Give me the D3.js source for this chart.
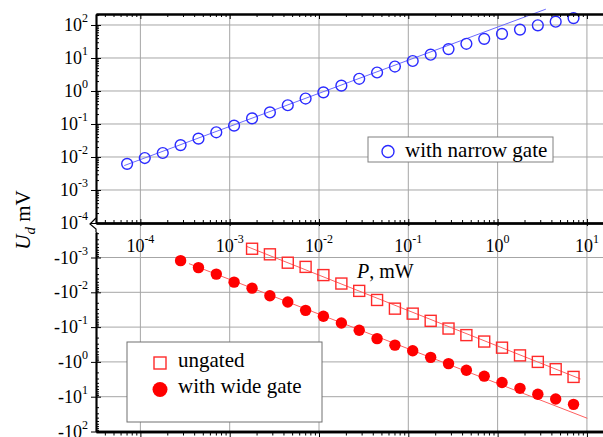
<!DOCTYPE html>
<html>
<head>
<meta charset="utf-8">
<script src="https://cdn.jsdelivr.net/npm/d3@7"></script>
<style>
  body { margin: 0; background: #fff; }
</style>
</head>
<body>
<div id="chart"></div>
<script>
// P, mW and U_d, mV
const narrowP = [7.1e-5, 1.12e-4, 1.78e-4, 2.82e-4, 4.47e-4, 7.08e-4, 1.12e-3, 1.78e-3, 2.82e-3,
                 4.47e-3, 7.08e-3, 1.12e-2, 1.78e-2, 2.82e-2, 4.47e-2, 7.08e-2, 0.112, 0.178, 0.282,
                 0.447, 0.708, 1.12, 1.78, 2.82, 4.47, 7.08];
const narrowU = [6.2e-3, 9.3e-3, 1.32e-2, 2.29e-2, 3.6e-2, 5.6e-2, 8.9e-2, 0.148, 0.224, 0.37, 0.59,
                 0.91, 1.45, 2.34, 3.63, 5.5, 8.1, 12.6, 18.6, 26.9, 38, 53.7, 72.4, 97.7, 126, 162];

const ungatedP = [1.78e-3, 2.82e-3, 4.47e-3, 7.08e-3, 1.12e-2, 1.78e-2, 2.82e-2, 4.47e-2, 7.08e-2,
                  0.112, 0.178, 0.282, 0.447, 0.708, 1.12, 1.78, 2.82, 4.47, 7.08];
const ungatedU = [-5.6e-4, -8.1e-4, -1.41e-3, -1.86e-3, -3.2e-3, -5.6e-3, -9.1e-3, -1.66e-2, -2.95e-2,
                  -4.1e-2, -6.6e-2, -0.11, -0.17, -0.26, -0.39, -0.65, -1.0, -1.62, -2.7];

const wideP = [2.82e-4, 4.47e-4, 7.08e-4, 1.12e-3, 1.78e-3, 2.82e-3, 4.47e-3, 7.08e-3, 1.12e-2,
               1.78e-2, 2.82e-2, 4.47e-2, 7.08e-2, 0.112, 0.178, 0.282, 0.447, 0.708, 1.12, 1.78,
               2.82, 4.47, 7.08];
const wideU = [-1.23e-3, -1.95e-3, -3.0e-3, -5.1e-3, -7.6e-3, -1.26e-2, -1.9e-2, -3.3e-2, -4.9e-2,
               -7.6e-2, -0.123, -0.214, -0.33, -0.48, -0.74, -1.12, -1.74, -2.57, -3.9, -5.75,
               -8.5, -11.7, -16.6];

// straight fit lines (end points)
const narrowFitP = [6.6e-5, 3.47];
const narrowFitU = [5.5e-3, 302];
const ungatedFitP = [1.55e-3, 8.5];
const ungatedFitU = [-4.8e-4, -3.1];
const wideFitP = [3.5e-4, 10.1];
const wideFitU = [-1.5e-3, -41.7];

// tick exponents
const xTickExps = [-4, -3, -2, -1, 0, 1];
const topTickExps = [-4, -3, -2, -1, 0, 1, 2];
const botTickExps = [-3, -2, -1, 0, 1, 2];

const W = 603, H = 437;
const left = 96, right = 603;
const topY0 = 14, topY1 = 223, botY0 = 232, botY1 = 431.5;
const serif = "'Liberation Serif', Tinos, 'DejaVu Serif', 'Times New Roman', serif";

const svg = d3.select('#chart').append('svg')
  .attr('width', W)
  .attr('height', H)
  .attr('font-family', serif)
  .style('font-family', serif);

const x = d3.scaleLog()
  .domain([Math.pow(10, -4.497), Math.pow(10, 1.18)])
  .range([left, right]);
const yTop = d3.scaleLog()
  .domain([1e-4, Math.pow(10, 2.333)])
  .range([topY1, topY0]);
const yBot = d3.scaleLog()
  .domain([Math.pow(10, -3.733), 100])
  .range([botY0, botY1]);
const yb = v => yBot(Math.abs(v));

const isDecade = v => Math.abs(Math.log10(v) - Math.round(Math.log10(v))) < 1e-6;

// grid
const grid = svg.append('g').attr('stroke', '#a6a6a6').attr('stroke-width', 1);
xTickExps.forEach(e => {
  grid.append('line')
    .attr('x1', x(Math.pow(10, e))).attr('x2', x(Math.pow(10, e)))
    .attr('y1', topY0).attr('y2', botY1);
});
topTickExps.filter(e => e > -4).forEach(e => {
  grid.append('line')
    .attr('x1', left).attr('x2', right)
    .attr('y1', yTop(Math.pow(10, e))).attr('y2', yTop(Math.pow(10, e)));
});
botTickExps.filter(e => e < 2).forEach(e => {
  grid.append('line')
    .attr('x1', left).attr('x2', right)
    .attr('y1', yb(Math.pow(10, e))).attr('y2', yb(Math.pow(10, e)));
});

// fit lines
svg.append('line')
  .attr('x1', x(narrowFitP[0])).attr('y1', yTop(narrowFitU[0]))
  .attr('x2', x(narrowFitP[1])).attr('y2', yTop(narrowFitU[1]))
  .attr('stroke', '#6b6bff').attr('stroke-width', 1);
svg.append('line')
  .attr('x1', x(ungatedFitP[0])).attr('y1', yb(ungatedFitU[0]))
  .attr('x2', x(ungatedFitP[1])).attr('y2', yb(ungatedFitU[1]))
  .attr('stroke', '#ff6060').attr('stroke-width', 1);
svg.append('line')
  .attr('x1', x(wideFitP[0])).attr('y1', yb(wideFitU[0]))
  .attr('x2', x(wideFitP[1])).attr('y2', yb(wideFitU[1]))
  .attr('stroke', '#ff6060').attr('stroke-width', 1);

// markers
svg.append('g').selectAll('circle')
  .data(d3.zip(narrowP, narrowU))
  .enter()
  .append('circle')
  .attr('cx', d => x(d[0]))
  .attr('cy', d => yTop(d[1]))
  .attr('r', 5.4)
  .attr('fill', 'none')
  .attr('stroke', '#2a2aff')
  .attr('stroke-width', 1.4);

const sq = 11;
svg.append('g').selectAll('rect')
  .data(d3.zip(ungatedP, ungatedU))
  .enter()
  .append('rect')
  .attr('x', d => x(d[0]) - sq / 2)
  .attr('y', d => yb(d[1]) - sq / 2)
  .attr('width', sq)
  .attr('height', sq)
  .attr('fill', 'none')
  .attr('stroke', '#ff2a2a')
  .attr('stroke-width', 1.4);

svg.append('g').selectAll('circle')
  .data(d3.zip(wideP, wideU))
  .enter()
  .append('circle')
  .attr('cx', d => x(d[0]))
  .attr('cy', d => yb(d[1]))
  .attr('r', 5.7)
  .attr('fill', '#ff0000');

// axes
function addAxis(axisFn, scale, transform, size, values, width) {
  const g = svg.append('g')
    .attr('transform', transform)
    .call(axisFn(scale).tickValues(values).tickSize(size).tickSizeOuter(0).tickFormat(''));
  g.select('.domain').attr('stroke', '#000').attr('stroke-width', width);
  g.selectAll('.tick line').attr('stroke', '#000').attr('stroke-width', 1);
  return g;
}
const xMinor = x.ticks().filter(v => !isDecade(v));
const xMajor = xTickExps.map(e => Math.pow(10, e));
const topMinor = yTop.ticks().filter(v => !isDecade(v));
const topMajor = topTickExps.map(e => Math.pow(10, e));
const botMinor = yBot.ticks().filter(v => !isDecade(v));
const botMajor = botTickExps.map(e => Math.pow(10, e));

addAxis(d3.axisBottom, x, `translate(0,${topY0})`, 3, xMinor, 2);
addAxis(d3.axisBottom, x, `translate(0,${topY0})`, 5, xMajor, 2);
addAxis(d3.axisTop, x, `translate(0,${topY1})`, 3, xMinor, 2);
addAxis(d3.axisTop, x, `translate(0,${topY1})`, 4, xMajor, 2);
addAxis(d3.axisBottom, x, `translate(0,${topY1})`, 3, xMajor, 2);
addAxis(d3.axisBottom, x, `translate(0,${botY1})`, 4, xMinor, 2.5);
addAxis(d3.axisBottom, x, `translate(0,${botY1})`, 6, xMajor, 2.5);

addAxis(d3.axisRight, yTop, `translate(${left},0)`, 3, topMinor, 1.5);
addAxis(d3.axisRight, yTop, `translate(${left},0)`, 5, topMajor, 1.5);
addAxis(d3.axisLeft, yTop, `translate(${left},0)`, 5, topMajor, 1.5);
addAxis(d3.axisRight, yBot, `translate(${left},0)`, 3, botMinor, 1.5);
addAxis(d3.axisRight, yBot, `translate(${left},0)`, 5, botMajor, 1.5);
addAxis(d3.axisLeft, yBot, `translate(${left},0)`, 5, botMajor, 1.5);

// axis break mark
svg.append('path')
  .attr('d', `M${left},${topY1 - 5} L${left - 6},${topY1 + 1} L${left},${topY1 + 6} L${left},${botY0}`)
  .attr('fill', 'none')
  .attr('stroke', '#000')
  .attr('stroke-width', 1.2);

// tick labels
function powText(g, prefix, e) {
  g.text(prefix + '10');
  g.append('tspan').attr('dy', -9).attr('font-size', 12).text(e);
}
xTickExps.forEach(e => {
  svg.append('text')
    .attr('x', x(Math.pow(10, e)))
    .attr('y', 252)
    .attr('text-anchor', 'middle')
    .attr('font-size', 18)
    .call(powText, '', e);
});
topTickExps.forEach(e => {
  svg.append('text')
    .attr('x', 88)
    .attr('y', yTop(Math.pow(10, e)) + 6)
    .attr('text-anchor', 'end')
    .attr('font-size', 18)
    .call(powText, '', e);
});
botTickExps.forEach(e => {
  svg.append('text')
    .attr('x', 88)
    .attr('y', yb(Math.pow(10, e)) + 6)
    .attr('text-anchor', 'end')
    .attr('font-size', 18)
    .call(powText, '-', e);
});

// axis titles
const yTitle = svg.append('text')
  .attr('transform', 'translate(30,220) rotate(-90)')
  .attr('text-anchor', 'middle')
  .attr('font-size', 21);
yTitle.append('tspan').attr('font-style', 'italic').text('U');
yTitle.append('tspan').attr('font-style', 'italic').attr('font-size', 15).attr('dy', 5).text('d');
yTitle.append('tspan').attr('dy', -5).text(' mV');

const xTitle = svg.append('text')
  .attr('x', 357)
  .attr('y', 278)
  .attr('font-size', 20);
xTitle.append('tspan').attr('font-style', 'italic').text('P');
xTitle.append('tspan').text(', mW');

// legends
const lg1 = svg.append('g');
lg1.append('rect')
  .attr('x', 368).attr('y', 137).attr('width', 185).attr('height', 25)
  .attr('fill', '#fff').attr('stroke', '#808080').attr('stroke-width', 1);
lg1.append('circle')
  .attr('cx', 388).attr('cy', 151.5).attr('r', 6)
  .attr('fill', 'none').attr('stroke', '#2a2aff').attr('stroke-width', 1.4);
lg1.append('text')
  .attr('x', 405).attr('y', 157).attr('font-size', 21)
  .text('with narrow gate');

const lg2 = svg.append('g');
lg2.append('rect')
  .attr('x', 127).attr('y', 342).attr('width', 195).attr('height', 80)
  .attr('fill', '#fff').attr('stroke', '#707070').attr('stroke-width', 1);
lg2.append('rect')
  .attr('x', 154).attr('y', 357).attr('width', 12).attr('height', 12)
  .attr('fill', 'none').attr('stroke', '#ff2a2a').attr('stroke-width', 1.4);
lg2.append('circle')
  .attr('cx', 160).attr('cy', 389.5).attr('r', 7.5)
  .attr('fill', '#ff0000');
lg2.append('text')
  .attr('x', 178).attr('y', 367).attr('font-size', 21)
  .text('ungated');
lg2.append('text')
  .attr('x', 178).attr('y', 393).attr('font-size', 21)
  .text('with wide gate');
</script>
</body>
</html>
